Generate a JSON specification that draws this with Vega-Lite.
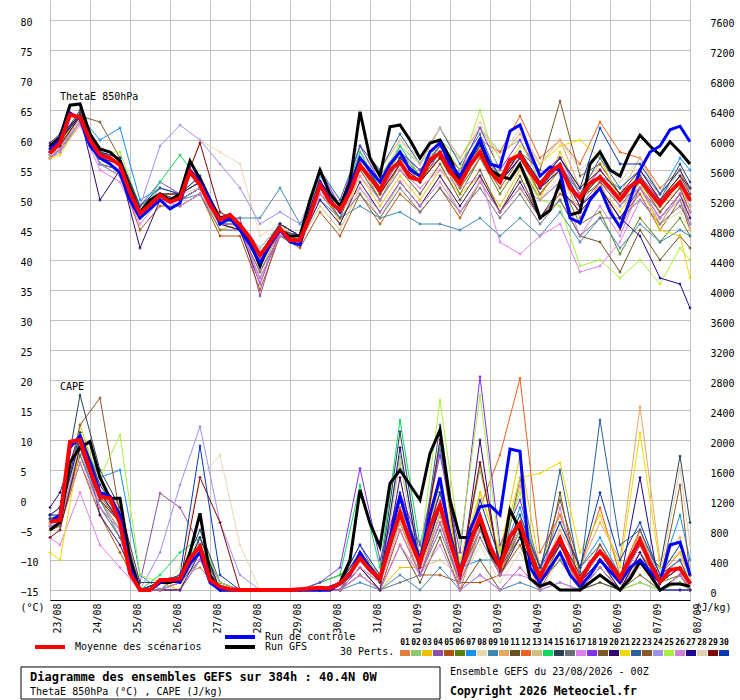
{
"$schema":"https://vega.github.io/schema/vega-lite/v6.json",
"width":640,"height":600,
"autosize":{"type":"none"},
"padding":{"left":50,"right":50,"top":0,"bottom":100},
"background":"#ffffff",
"config":{"view":{"stroke":null},"font":"DejaVu Sans Mono","axis":{"labelOverlap":false,"labelFlush":false,"labelBound":false,"labelSeparation":0},"text":{"font":"DejaVu Sans Mono","fontSize":10,"color":"#000000"}},
"datasets":{
"m":[
{"h":0,"r":"M","t":57.8,"c":911},{"h":6,"r":"M","t":59.5,"c":933},{"h":12,"r":"M","t":64.2,"c":1978},{"h":18,"r":"M","t":63.8,"c":2000},{"h":24,"r":"M","t":60,"c":1600},{"h":30,"r":"M","t":57.5,"c":1244},{"h":36,"r":"M","t":57,"c":1222},{"h":42,"r":"M","t":55.8,"c":889},{"h":48,"r":"M","t":51.3,"c":222},{"h":54,"r":"M","t":47.8,"c":0},{"h":60,"r":"M","t":49.2,"c":0},{"h":66,"r":"M","t":50.8,"c":133},{"h":72,"r":"M","t":49.7,"c":133},{"h":78,"r":"M","t":50.3,"c":150},{"h":84,"r":"M","t":54.7,"c":422},{"h":90,"r":"M","t":52.5,"c":578},{"h":96,"r":"M","t":49.2,"c":133},{"h":102,"r":"M","t":46.7,"c":44},{"h":108,"r":"M","t":47.5,"c":10},{"h":114,"r":"M","t":45.8,"c":0},{"h":120,"r":"M","t":43.7,"c":0},{"h":126,"r":"M","t":40.8,"c":0},{"h":132,"r":"M","t":43,"c":0},{"h":138,"r":"M","t":45.3,"c":0},{"h":144,"r":"M","t":43.3,"c":0},{"h":150,"r":"M","t":43.3,"c":10},{"h":156,"r":"M","t":47.5,"c":20},{"h":162,"r":"M","t":52.5,"c":30},{"h":168,"r":"M","t":49.7,"c":20},{"h":174,"r":"M","t":48.3,"c":89},{"h":180,"r":"M","t":51.3,"c":222},{"h":186,"r":"M","t":55.8,"c":422},{"h":192,"r":"M","t":53.7,"c":267},{"h":198,"r":"M","t":51.7,"c":156},{"h":204,"r":"M","t":55,"c":622},{"h":210,"r":"M","t":56.3,"c":1022},{"h":216,"r":"M","t":53.8,"c":667},{"h":222,"r":"M","t":53.3,"c":356},{"h":228,"r":"M","t":56.7,"c":844},{"h":234,"r":"M","t":57.8,"c":1133},{"h":240,"r":"M","t":54.7,"c":644},{"h":246,"r":"M","t":52.8,"c":222},{"h":252,"r":"M","t":55.8,"c":622},{"h":258,"r":"M","t":58,"c":978},{"h":264,"r":"M","t":54.7,"c":578},{"h":270,"r":"M","t":53,"c":311},{"h":276,"r":"M","t":56.7,"c":711},{"h":282,"r":"M","t":57.5,"c":889},{"h":288,"r":"M","t":54.7,"c":489},{"h":294,"r":"M","t":52.5,"c":178},{"h":300,"r":"M","t":54.7,"c":444},{"h":306,"r":"M","t":55.8,"c":689},{"h":312,"r":"M","t":52,"c":356},{"h":318,"r":"M","t":50.3,"c":111},{"h":324,"r":"M","t":52.8,"c":356},{"h":330,"r":"M","t":53.8,"c":511},{"h":336,"r":"M","t":52,"c":356},{"h":342,"r":"M","t":50,"c":156},{"h":348,"r":"M","t":52.2,"c":422},{"h":354,"r":"M","t":53.3,"c":667},{"h":360,"r":"M","t":51.3,"c":356},{"h":366,"r":"M","t":49.2,"c":111},{"h":372,"r":"M","t":51.3,"c":267},{"h":378,"r":"M","t":53,"c":289},{"h":384,"r":"M","t":50,"c":89},
{"h":0,"r":"C","t":58.5,"c":900},{"h":6,"r":"C","t":60,"c":1000},{"h":12,"r":"C","t":64.5,"c":1900},{"h":18,"r":"C","t":63.5,"c":2050},{"h":24,"r":"C","t":59,"c":1700},{"h":30,"r":"C","t":57,"c":1300},{"h":36,"r":"C","t":56,"c":1250},{"h":42,"r":"C","t":54.5,"c":1000},{"h":48,"r":"C","t":50,"c":300},{"h":54,"r":"C","t":47,"c":0},{"h":60,"r":"C","t":48.5,"c":0},{"h":66,"r":"C","t":50,"c":100},{"h":72,"r":"C","t":48.5,"c":150},{"h":78,"r":"C","t":49.5,"c":100},{"h":84,"r":"C","t":55,"c":350},{"h":90,"r":"C","t":53,"c":500},{"h":96,"r":"C","t":50,"c":100},{"h":102,"r":"C","t":46,"c":0},{"h":108,"r":"C","t":47,"c":0},{"h":114,"r":"C","t":45,"c":0},{"h":120,"r":"C","t":42.5,"c":0},{"h":126,"r":"C","t":39.5,"c":0},{"h":132,"r":"C","t":42.5,"c":0},{"h":138,"r":"C","t":45,"c":0},{"h":144,"r":"C","t":43,"c":0},{"h":150,"r":"C","t":42.5,"c":0},{"h":156,"r":"C","t":48,"c":0},{"h":162,"r":"C","t":53,"c":0},{"h":168,"r":"C","t":50,"c":0},{"h":174,"r":"C","t":48,"c":80},{"h":180,"r":"C","t":52,"c":200},{"h":186,"r":"C","t":57,"c":500},{"h":192,"r":"C","t":55,"c":300},{"h":198,"r":"C","t":53,"c":150},{"h":204,"r":"C","t":56,"c":700},{"h":210,"r":"C","t":58,"c":1250},{"h":216,"r":"C","t":55,"c":800},{"h":222,"r":"C","t":54,"c":400},{"h":228,"r":"C","t":58,"c":1000},{"h":234,"r":"C","t":59.5,"c":1500},{"h":240,"r":"C","t":56,"c":700},{"h":246,"r":"C","t":54,"c":200},{"h":252,"r":"C","t":57,"c":800},{"h":258,"r":"C","t":60,"c":1111},{"h":264,"r":"C","t":56,"c":1130},{"h":270,"r":"C","t":55.5,"c":1000},{"h":276,"r":"C","t":61.5,"c":1880},{"h":282,"r":"C","t":62.5,"c":1850},{"h":288,"r":"C","t":58,"c":300},{"h":294,"r":"C","t":54,"c":100},{"h":300,"r":"C","t":55.5,"c":300},{"h":306,"r":"C","t":55,"c":500},{"h":312,"r":"C","t":47,"c":200},{"h":318,"r":"C","t":46.2,"c":50},{"h":324,"r":"C","t":50,"c":200},{"h":330,"r":"C","t":52,"c":400},{"h":336,"r":"C","t":48,"c":250},{"h":342,"r":"C","t":45.5,"c":100},{"h":348,"r":"C","t":50,"c":300},{"h":354,"r":"C","t":55,"c":400},{"h":360,"r":"C","t":58,"c":250},{"h":366,"r":"C","t":59,"c":100},{"h":372,"r":"C","t":61.7,"c":600},{"h":378,"r":"C","t":62.3,"c":640},{"h":384,"r":"C","t":59.7,"c":200},
{"h":0,"r":"G","t":59,"c":800},{"h":6,"r":"G","t":60.5,"c":900},{"h":12,"r":"G","t":65.8,"c":1700},{"h":18,"r":"G","t":66,"c":1900},{"h":24,"r":"G","t":61,"c":1978},{"h":30,"r":"G","t":58.5,"c":1500},{"h":36,"r":"G","t":58,"c":1222},{"h":42,"r":"G","t":56.5,"c":1222},{"h":48,"r":"G","t":52,"c":400},{"h":54,"r":"G","t":48,"c":0},{"h":60,"r":"G","t":50,"c":0},{"h":66,"r":"G","t":51,"c":100},{"h":72,"r":"G","t":50,"c":100},{"h":78,"r":"G","t":51,"c":150},{"h":84,"r":"G","t":56.5,"c":500},{"h":90,"r":"G","t":53.5,"c":1022},{"h":96,"r":"G","t":50,"c":200},{"h":102,"r":"G","t":47,"c":0},{"h":108,"r":"G","t":47.5,"c":0},{"h":114,"r":"G","t":45,"c":0},{"h":120,"r":"G","t":43,"c":0},{"h":126,"r":"G","t":39,"c":0},{"h":132,"r":"G","t":43,"c":0},{"h":138,"r":"G","t":45,"c":0},{"h":144,"r":"G","t":44,"c":0},{"h":150,"r":"G","t":44,"c":0},{"h":156,"r":"G","t":50,"c":0},{"h":162,"r":"G","t":55,"c":0},{"h":168,"r":"G","t":51,"c":0},{"h":174,"r":"G","t":49,"c":100},{"h":180,"r":"G","t":53,"c":400},{"h":186,"r":"G","t":64.7,"c":1333},{"h":192,"r":"G","t":57,"c":889},{"h":198,"r":"G","t":54,"c":578},{"h":204,"r":"G","t":62.2,"c":1422},{"h":210,"r":"G","t":62.5,"c":1600},{"h":216,"r":"G","t":60,"c":1400},{"h":222,"r":"G","t":57,"c":1200},{"h":228,"r":"G","t":59.5,"c":1822},{"h":234,"r":"G","t":60,"c":2133},{"h":240,"r":"G","t":57,"c":1200},{"h":246,"r":"G","t":53,"c":700},{"h":252,"r":"G","t":57,"c":700},{"h":258,"r":"G","t":60,"c":900},{"h":264,"r":"G","t":55,"c":500},{"h":270,"r":"G","t":54,"c":300},{"h":276,"r":"G","t":53.5,"c":1067},{"h":282,"r":"G","t":56,"c":800},{"h":288,"r":"G","t":52,"c":150},{"h":294,"r":"G","t":47,"c":50},{"h":300,"r":"G","t":48.3,"c":100},{"h":306,"r":"G","t":53,"c":0},{"h":312,"r":"G","t":47.5,"c":0},{"h":318,"r":"G","t":48,"c":0},{"h":324,"r":"G","t":56,"c":100},{"h":330,"r":"G","t":58,"c":200},{"h":336,"r":"G","t":55,"c":100},{"h":342,"r":"G","t":54,"c":0},{"h":348,"r":"G","t":58,"c":150},{"h":354,"r":"G","t":60.8,"c":378},{"h":360,"r":"G","t":59,"c":200},{"h":366,"r":"G","t":57.5,"c":0},{"h":372,"r":"G","t":59.7,"c":80},{"h":378,"r":"G","t":58,"c":80},{"h":384,"r":"G","t":56,"c":50}
],
"p":[
{"h":0,"r":"01","t":58,"c":880},{"h":6,"r":"01","t":60,"c":950},{"h":18,"r":"01","t":64,"c":2100},{"h":30,"r":"01","t":58,"c":1300},{"h":42,"r":"01","t":57,"c":1000},{"h":54,"r":"01","t":47,"c":0},{"h":66,"r":"01","t":51,"c":0},{"h":78,"r":"01","t":51,"c":200},{"h":90,"r":"01","t":54,"c":300},{"h":102,"r":"01","t":46,"c":0},{"h":114,"r":"01","t":45,"c":0},{"h":126,"r":"01","t":38,"c":0},{"h":138,"r":"01","t":45,"c":0},{"h":150,"r":"01","t":44,"c":0},{"h":162,"r":"01","t":53,"c":0},{"h":174,"r":"01","t":48,"c":0},{"h":186,"r":"01","t":57,"c":300},{"h":198,"r":"01","t":52,"c":100},{"h":210,"r":"01","t":58,"c":900},{"h":222,"r":"01","t":54,"c":200},{"h":234,"r":"01","t":59,"c":1000},{"h":246,"r":"01","t":52,"c":0},{"h":258,"r":"01","t":59,"c":800},{"h":270,"r":"01","t":53,"c":200},{"h":282,"r":"01","t":58,"c":900},{"h":294,"r":"01","t":51,"c":100},{"h":306,"r":"01","t":56,"c":600},{"h":318,"r":"01","t":47,"c":0},{"h":330,"r":"01","t":53,"c":400},{"h":342,"r":"01","t":45,"c":0},{"h":354,"r":"01","t":52,"c":800},{"h":366,"r":"01","t":46,"c":100},{"h":378,"r":"01","t":51,"c":300},{"h":384,"r":"01","t":46,"c":0},
{"h":0,"r":"02","t":57.5,"c":950},{"h":6,"r":"02","t":59,"c":900},{"h":18,"r":"02","t":63.5,"c":1900},{"h":30,"r":"02","t":56,"c":1100},{"h":42,"r":"02","t":55,"c":700},{"h":54,"r":"02","t":47,"c":0},{"h":66,"r":"02","t":52,"c":0},{"h":78,"r":"02","t":51,"c":100},{"h":90,"r":"02","t":53,"c":400},{"h":102,"r":"02","t":47,"c":0},{"h":114,"r":"02","t":46,"c":0},{"h":126,"r":"02","t":41,"c":0},{"h":138,"r":"02","t":46,"c":0},{"h":150,"r":"02","t":44,"c":0},{"h":162,"r":"02","t":52,"c":0},{"h":174,"r":"02","t":49,"c":100},{"h":186,"r":"02","t":58,"c":500},{"h":198,"r":"02","t":54,"c":200},{"h":210,"r":"02","t":59,"c":1800},{"h":222,"r":"02","t":56,"c":400},{"h":234,"r":"02","t":60,"c":2000},{"h":246,"r":"02","t":57,"c":300},{"h":258,"r":"02","t":62,"c":1600},{"h":270,"r":"02","t":58,"c":400},{"h":282,"r":"02","t":60,"c":1000},{"h":294,"r":"02","t":53,"c":200},{"h":306,"r":"02","t":57,"c":700},{"h":318,"r":"02","t":52,"c":100},{"h":330,"r":"02","t":55,"c":600},{"h":342,"r":"02","t":51,"c":200},{"h":354,"r":"02","t":54,"c":800},{"h":366,"r":"02","t":50,"c":100},{"h":378,"r":"02","t":54,"c":300},{"h":384,"r":"02","t":52,"c":100},
{"h":0,"r":"03","t":58,"c":900},{"h":6,"r":"03","t":59.5,"c":1000},{"h":18,"r":"03","t":64.5,"c":2200},{"h":30,"r":"03","t":58,"c":1400},{"h":42,"r":"03","t":56,"c":1100},{"h":54,"r":"03","t":48,"c":0},{"h":66,"r":"03","t":50,"c":100},{"h":78,"r":"03","t":50,"c":0},{"h":90,"r":"03","t":52,"c":700},{"h":102,"r":"03","t":45,"c":0},{"h":114,"r":"03","t":46,"c":0},{"h":126,"r":"03","t":41,"c":0},{"h":138,"r":"03","t":46,"c":0},{"h":150,"r":"03","t":43,"c":0},{"h":162,"r":"03","t":53,"c":0},{"h":174,"r":"03","t":46,"c":0},{"h":186,"r":"03","t":54,"c":200},{"h":198,"r":"03","t":49,"c":0},{"h":210,"r":"03","t":54,"c":300},{"h":222,"r":"03","t":50,"c":300},{"h":234,"r":"03","t":55,"c":1900},{"h":246,"r":"03","t":51,"c":100},{"h":258,"r":"03","t":54,"c":1300},{"h":270,"r":"03","t":49,"c":500},{"h":282,"r":"03","t":55,"c":1800},{"h":294,"r":"03","t":50,"c":300},{"h":306,"r":"03","t":58,"c":1000},{"h":318,"r":"03","t":51,"c":200},{"h":330,"r":"03","t":52,"c":500},{"h":342,"r":"03","t":48,"c":100},{"h":354,"r":"03","t":53,"c":400},{"h":366,"r":"03","t":48,"c":0},{"h":378,"r":"03","t":52,"c":200},{"h":384,"r":"03","t":48,"c":0},
{"h":0,"r":"04","t":59,"c":1000},{"h":6,"r":"04","t":60,"c":1100},{"h":18,"r":"04","t":64,"c":1900},{"h":30,"r":"04","t":57,"c":1200},{"h":42,"r":"04","t":55,"c":800},{"h":54,"r":"04","t":49,"c":100},{"h":66,"r":"04","t":53,"c":1290},{"h":78,"r":"04","t":51,"c":1100},{"h":90,"r":"04","t":53,"c":600},{"h":102,"r":"04","t":47,"c":100},{"h":114,"r":"04","t":47,"c":0},{"h":126,"r":"04","t":34,"c":0},{"h":138,"r":"04","t":45,"c":0},{"h":150,"r":"04","t":44,"c":0},{"h":162,"r":"04","t":52,"c":0},{"h":174,"r":"04","t":48,"c":100},{"h":186,"r":"04","t":56,"c":600},{"h":198,"r":"04","t":51,"c":100},{"h":210,"r":"04","t":57,"c":1100},{"h":222,"r":"04","t":54,"c":500},{"h":234,"r":"04","t":57,"c":1300},{"h":246,"r":"04","t":53,"c":200},{"h":258,"r":"04","t":58,"c":1000},{"h":270,"r":"04","t":53,"c":300},{"h":282,"r":"04","t":57,"c":700},{"h":294,"r":"04","t":52,"c":100},{"h":306,"r":"04","t":55,"c":500},{"h":318,"r":"04","t":49,"c":100},{"h":330,"r":"04","t":53,"c":600},{"h":342,"r":"04","t":50,"c":200},{"h":354,"r":"04","t":52,"c":700},{"h":366,"r":"04","t":48,"c":200},{"h":378,"r":"04","t":52,"c":400},{"h":384,"r":"04","t":49,"c":100},
{"h":0,"r":"05","t":57,"c":800},{"h":6,"r":"05","t":58.5,"c":850},{"h":18,"r":"05","t":63,"c":1700},{"h":30,"r":"05","t":56,"c":1000},{"h":42,"r":"05","t":54,"c":500},{"h":54,"r":"05","t":45,"c":0},{"h":66,"r":"05","t":49,"c":0},{"h":78,"r":"05","t":49,"c":0},{"h":90,"r":"05","t":51,"c":400},{"h":102,"r":"05","t":44,"c":0},{"h":114,"r":"05","t":44,"c":0},{"h":126,"r":"05","t":35,"c":0},{"h":138,"r":"05","t":44,"c":0},{"h":150,"r":"05","t":42,"c":0},{"h":162,"r":"05","t":48,"c":0},{"h":174,"r":"05","t":44,"c":0},{"h":186,"r":"05","t":51,"c":200},{"h":198,"r":"05","t":46,"c":0},{"h":210,"r":"05","t":51,"c":800},{"h":222,"r":"05","t":48,"c":200},{"h":234,"r":"05","t":52,"c":200},{"h":246,"r":"05","t":47,"c":100},{"h":258,"r":"05","t":53,"c":100},{"h":270,"r":"05","t":48,"c":200},{"h":282,"r":"05","t":52,"c":600},{"h":294,"r":"05","t":47,"c":0},{"h":306,"r":"05","t":51,"c":500},{"h":318,"r":"05","t":49,"c":0},{"h":330,"r":"05","t":52,"c":300},{"h":342,"r":"05","t":47,"c":0},{"h":354,"r":"05","t":51,"c":500},{"h":366,"r":"05","t":45,"c":0},{"h":378,"r":"05","t":50,"c":200},{"h":384,"r":"05","t":45,"c":0},
{"h":0,"r":"06","t":58,"c":900},{"h":6,"r":"06","t":59,"c":950},{"h":18,"r":"06","t":64,"c":2000},{"h":30,"r":"06","t":57,"c":1300},{"h":42,"r":"06","t":56,"c":900},{"h":54,"r":"06","t":48,"c":0},{"h":66,"r":"06","t":50,"c":100},{"h":78,"r":"06","t":50,"c":100},{"h":90,"r":"06","t":52,"c":500},{"h":102,"r":"06","t":46,"c":0},{"h":114,"r":"06","t":46,"c":0},{"h":126,"r":"06","t":39,"c":0},{"h":138,"r":"06","t":45,"c":0},{"h":150,"r":"06","t":43,"c":0},{"h":162,"r":"06","t":52,"c":100},{"h":174,"r":"06","t":48,"c":200},{"h":186,"r":"06","t":56,"c":400},{"h":198,"r":"06","t":50,"c":100},{"h":210,"r":"06","t":56,"c":900},{"h":222,"r":"06","t":53,"c":300},{"h":234,"r":"06","t":57,"c":1000},{"h":246,"r":"06","t":51,"c":200},{"h":258,"r":"06","t":57,"c":800},{"h":270,"r":"06","t":51,"c":300},{"h":282,"r":"06","t":56,"c":700},{"h":294,"r":"06","t":50,"c":100},{"h":306,"r":"06","t":53,"c":400},{"h":318,"r":"06","t":46,"c":0},{"h":330,"r":"06","t":48,"c":300},{"h":342,"r":"06","t":41,"c":0},{"h":354,"r":"06","t":47,"c":500},{"h":366,"r":"06","t":43,"c":100},{"h":378,"r":"06","t":47,"c":200},{"h":384,"r":"06","t":44,"c":0},
{"h":0,"r":"07","t":58.5,"c":950},{"h":6,"r":"07","t":60,"c":1000},{"h":18,"r":"07","t":64,"c":2000},{"h":30,"r":"07","t":60,"c":1500},{"h":42,"r":"07","t":62,"c":1600},{"h":54,"r":"07","t":50,"c":200},{"h":66,"r":"07","t":52,"c":0},{"h":78,"r":"07","t":51,"c":200},{"h":90,"r":"07","t":53,"c":700},{"h":102,"r":"07","t":47,"c":100},{"h":114,"r":"07","t":46,"c":0},{"h":126,"r":"07","t":42,"c":0},{"h":138,"r":"07","t":46,"c":0},{"h":150,"r":"07","t":44,"c":0},{"h":162,"r":"07","t":53,"c":0},{"h":174,"r":"07","t":49,"c":0},{"h":186,"r":"07","t":57,"c":500},{"h":198,"r":"07","t":52,"c":200},{"h":210,"r":"07","t":58,"c":1100},{"h":222,"r":"07","t":55,"c":500},{"h":234,"r":"07","t":59,"c":1900},{"h":246,"r":"07","t":55,"c":300},{"h":258,"r":"07","t":59,"c":400},{"h":270,"r":"07","t":54,"c":400},{"h":282,"r":"07","t":58,"c":1100},{"h":294,"r":"07","t":53,"c":300},{"h":306,"r":"07","t":56,"c":900},{"h":318,"r":"07","t":50,"c":300},{"h":330,"r":"07","t":54,"c":700},{"h":342,"r":"07","t":52,"c":200},{"h":354,"r":"07","t":55,"c":600},{"h":366,"r":"07","t":51,"c":200},{"h":378,"r":"07","t":57,"c":1000},{"h":384,"r":"07","t":55,"c":400},
{"h":0,"r":"08","t":58,"c":900},{"h":6,"r":"08","t":59,"c":900},{"h":18,"r":"08","t":63,"c":1900},{"h":30,"r":"08","t":57,"c":1100},{"h":42,"r":"08","t":56,"c":800},{"h":54,"r":"08","t":48,"c":0},{"h":66,"r":"08","t":52,"c":0},{"h":78,"r":"08","t":51,"c":300},{"h":90,"r":"08","t":60,"c":1500},{"h":102,"r":"08","t":58,"c":1800},{"h":114,"r":"08","t":56,"c":600},{"h":126,"r":"08","t":44,"c":0},{"h":138,"r":"08","t":46,"c":0},{"h":150,"r":"08","t":44,"c":0},{"h":162,"r":"08","t":51,"c":0},{"h":174,"r":"08","t":48,"c":0},{"h":186,"r":"08","t":55,"c":300},{"h":198,"r":"08","t":51,"c":0},{"h":210,"r":"08","t":55,"c":600},{"h":222,"r":"08","t":52,"c":200},{"h":234,"r":"08","t":56,"c":700},{"h":246,"r":"08","t":52,"c":100},{"h":258,"r":"08","t":57,"c":600},{"h":270,"r":"08","t":52,"c":100},{"h":282,"r":"08","t":55,"c":500},{"h":294,"r":"08","t":50,"c":0},{"h":306,"r":"08","t":54,"c":400},{"h":318,"r":"08","t":48,"c":0},{"h":330,"r":"08","t":52,"c":200},{"h":342,"r":"08","t":47,"c":0},{"h":354,"r":"08","t":50,"c":300},{"h":366,"r":"08","t":46,"c":0},{"h":378,"r":"08","t":48,"c":200},{"h":384,"r":"08","t":45,"c":0},
{"h":0,"r":"09","t":57,"c":850},{"h":6,"r":"09","t":58,"c":900},{"h":18,"r":"09","t":63,"c":1800},{"h":30,"r":"09","t":56,"c":1200},{"h":42,"r":"09","t":55,"c":700},{"h":54,"r":"09","t":47,"c":0},{"h":66,"r":"09","t":50,"c":0},{"h":78,"r":"09","t":50,"c":100},{"h":90,"r":"09","t":51,"c":400},{"h":102,"r":"09","t":46,"c":0},{"h":114,"r":"09","t":47,"c":0},{"h":126,"r":"09","t":47,"c":0},{"h":138,"r":"09","t":52,"c":0},{"h":150,"r":"09","t":46,"c":0},{"h":162,"r":"09","t":50,"c":0},{"h":174,"r":"09","t":47,"c":0},{"h":186,"r":"09","t":49,"c":100},{"h":198,"r":"09","t":47,"c":0},{"h":210,"r":"09","t":48,"c":200},{"h":222,"r":"09","t":46,"c":0},{"h":234,"r":"09","t":46,"c":300},{"h":246,"r":"09","t":45,"c":0},{"h":258,"r":"09","t":47,"c":200},{"h":270,"r":"09","t":44,"c":0},{"h":282,"r":"09","t":47,"c":100},{"h":294,"r":"09","t":44,"c":0},{"h":306,"r":"09","t":48,"c":100},{"h":318,"r":"09","t":43,"c":0},{"h":330,"r":"09","t":47,"c":100},{"h":342,"r":"09","t":42,"c":0},{"h":354,"r":"09","t":46,"c":100},{"h":366,"r":"09","t":43,"c":0},{"h":378,"r":"09","t":45,"c":0},{"h":384,"r":"09","t":44,"c":0},
{"h":0,"r":"10","t":58,"c":900},{"h":6,"r":"10","t":59.5,"c":950},{"h":18,"r":"10","t":64,"c":2000},{"h":30,"r":"10","t":58,"c":1300},{"h":42,"r":"10","t":56,"c":900},{"h":54,"r":"10","t":48,"c":0},{"h":66,"r":"10","t":51,"c":0},{"h":78,"r":"10","t":50,"c":100},{"h":90,"r":"10","t":52,"c":600},{"h":102,"r":"10","t":47,"c":0},{"h":114,"r":"10","t":46,"c":0},{"h":126,"r":"10","t":40,"c":0},{"h":138,"r":"10","t":45,"c":0},{"h":150,"r":"10","t":44,"c":0},{"h":162,"r":"10","t":53,"c":0},{"h":174,"r":"10","t":49,"c":100},{"h":186,"r":"10","t":59,"c":500},{"h":198,"r":"10","t":55,"c":200},{"h":210,"r":"10","t":60,"c":1000},{"h":222,"r":"10","t":57,"c":400},{"h":234,"r":"10","t":62,"c":1100},{"h":246,"r":"10","t":57,"c":300},{"h":258,"r":"10","t":62,"c":1700},{"h":270,"r":"10","t":57,"c":300},{"h":282,"r":"10","t":61,"c":1400},{"h":294,"r":"10","t":56,"c":200},{"h":306,"r":"10","t":60,"c":800},{"h":318,"r":"10","t":52,"c":300},{"h":330,"r":"10","t":56,"c":900},{"h":342,"r":"10","t":51,"c":400},{"h":354,"r":"10","t":57,"c":2444},{"h":366,"r":"10","t":51,"c":400},{"h":378,"r":"10","t":55,"c":700},{"h":384,"r":"10","t":51,"c":200},
{"h":0,"r":"11","t":57.5,"c":900},{"h":6,"r":"11","t":59,"c":950},{"h":18,"r":"11","t":63.5,"c":1900},{"h":30,"r":"11","t":57,"c":1200},{"h":42,"r":"11","t":55,"c":800},{"h":54,"r":"11","t":47,"c":0},{"h":66,"r":"11","t":50,"c":100},{"h":78,"r":"11","t":50,"c":100},{"h":90,"r":"11","t":52,"c":500},{"h":102,"r":"11","t":46,"c":0},{"h":114,"r":"11","t":45,"c":0},{"h":126,"r":"11","t":37,"c":0},{"h":138,"r":"11","t":44,"c":0},{"h":150,"r":"11","t":43,"c":0},{"h":162,"r":"11","t":52,"c":0},{"h":174,"r":"11","t":47,"c":0},{"h":186,"r":"11","t":55,"c":300},{"h":198,"r":"11","t":50,"c":0},{"h":210,"r":"11","t":55,"c":600},{"h":222,"r":"11","t":51,"c":100},{"h":234,"r":"11","t":56,"c":700},{"h":246,"r":"11","t":50,"c":0},{"h":258,"r":"11","t":55,"c":400},{"h":270,"r":"11","t":48,"c":0},{"h":282,"r":"11","t":54,"c":300},{"h":294,"r":"11","t":47,"c":0},{"h":306,"r":"11","t":50,"c":1300},{"h":318,"r":"11","t":44,"c":0},{"h":330,"r":"11","t":43,"c":100},{"h":342,"r":"11","t":38,"c":0},{"h":354,"r":"11","t":45,"c":200},{"h":366,"r":"11","t":40,"c":0},{"h":378,"r":"11","t":44,"c":100},{"h":384,"r":"11","t":42,"c":0},
{"h":0,"r":"12","t":58,"c":950},{"h":6,"r":"12","t":60,"c":1000},{"h":18,"r":"12","t":64.5,"c":2100},{"h":30,"r":"12","t":58,"c":1300},{"h":42,"r":"12","t":56,"c":1000},{"h":54,"r":"12","t":49,"c":0},{"h":66,"r":"12","t":51,"c":100},{"h":78,"r":"12","t":51,"c":100},{"h":90,"r":"12","t":53,"c":600},{"h":102,"r":"12","t":47,"c":0},{"h":114,"r":"12","t":46,"c":0},{"h":126,"r":"12","t":41,"c":0},{"h":138,"r":"12","t":46,"c":0},{"h":150,"r":"12","t":44,"c":0},{"h":162,"r":"12","t":53,"c":0},{"h":174,"r":"12","t":49,"c":100},{"h":186,"r":"12","t":57,"c":500},{"h":198,"r":"12","t":52,"c":200},{"h":210,"r":"12","t":58,"c":1100},{"h":222,"r":"12","t":55,"c":500},{"h":234,"r":"12","t":59,"c":1300},{"h":246,"r":"12","t":55,"c":300},{"h":258,"r":"12","t":60,"c":1100},{"h":270,"r":"12","t":58,"c":1800},{"h":282,"r":"12","t":64,"c":2822},{"h":294,"r":"12","t":57,"c":500},{"h":306,"r":"12","t":60,"c":1000},{"h":318,"r":"12","t":56,"c":300},{"h":330,"r":"12","t":63,"c":1100},{"h":342,"r":"12","t":58,"c":200},{"h":354,"r":"12","t":57,"c":800},{"h":366,"r":"12","t":52,"c":200},{"h":378,"r":"12","t":55,"c":500},{"h":384,"r":"12","t":51,"c":200},
{"h":0,"r":"13","t":58,"c":900},{"h":6,"r":"13","t":59,"c":900},{"h":18,"r":"13","t":63.5,"c":1900},{"h":30,"r":"13","t":57,"c":1200},{"h":42,"r":"13","t":55,"c":800},{"h":54,"r":"13","t":48,"c":0},{"h":66,"r":"13","t":51,"c":100},{"h":78,"r":"13","t":51,"c":100},{"h":90,"r":"13","t":53,"c":500},{"h":102,"r":"13","t":46,"c":0},{"h":114,"r":"13","t":46,"c":0},{"h":126,"r":"13","t":41,"c":0},{"h":138,"r":"13","t":45,"c":0},{"h":150,"r":"13","t":43,"c":0},{"h":162,"r":"13","t":49,"c":0},{"h":174,"r":"13","t":45,"c":100},{"h":186,"r":"13","t":52,"c":400},{"h":198,"r":"13","t":47,"c":100},{"h":210,"r":"13","t":53,"c":1700},{"h":222,"r":"13","t":49,"c":300},{"h":234,"r":"13","t":54,"c":400},{"h":246,"r":"13","t":48,"c":200},{"h":258,"r":"13","t":53,"c":900},{"h":270,"r":"13","t":48,"c":200},{"h":282,"r":"13","t":53,"c":800},{"h":294,"r":"13","t":52,"c":100},{"h":306,"r":"13","t":56,"c":600},{"h":318,"r":"13","t":51,"c":100},{"h":330,"r":"13","t":54,"c":500},{"h":342,"r":"13","t":50,"c":100},{"h":354,"r":"13","t":53,"c":600},{"h":366,"r":"13","t":49,"c":100},{"h":378,"r":"13","t":52,"c":300},{"h":384,"r":"13","t":49,"c":100},
{"h":0,"r":"14","t":58,"c":950},{"h":6,"r":"14","t":59.5,"c":1000},{"h":18,"r":"14","t":64,"c":2000},{"h":30,"r":"14","t":58,"c":1300},{"h":42,"r":"14","t":56,"c":900},{"h":54,"r":"14","t":48,"c":0},{"h":66,"r":"14","t":53,"c":200},{"h":78,"r":"14","t":57.5,"c":500},{"h":90,"r":"14","t":53,"c":700},{"h":102,"r":"14","t":47,"c":0},{"h":114,"r":"14","t":46,"c":0},{"h":126,"r":"14","t":41,"c":0},{"h":138,"r":"14","t":46,"c":0},{"h":150,"r":"14","t":44,"c":0},{"h":162,"r":"14","t":54,"c":100},{"h":174,"r":"14","t":49,"c":200},{"h":186,"r":"14","t":58,"c":1400},{"h":198,"r":"14","t":52,"c":300},{"h":210,"r":"14","t":59,"c":2267},{"h":222,"r":"14","t":54,"c":600},{"h":234,"r":"14","t":59,"c":1400},{"h":246,"r":"14","t":54,"c":200},{"h":258,"r":"14","t":59,"c":1000},{"h":270,"r":"14","t":54,"c":300},{"h":282,"r":"14","t":58,"c":900},{"h":294,"r":"14","t":53,"c":200},{"h":306,"r":"14","t":56,"c":700},{"h":318,"r":"14","t":50,"c":100},{"h":330,"r":"14","t":54,"c":500},{"h":342,"r":"14","t":50,"c":100},{"h":354,"r":"14","t":54,"c":600},{"h":366,"r":"14","t":49,"c":100},{"h":378,"r":"14","t":53,"c":300},{"h":384,"r":"14","t":50,"c":100},
{"h":0,"r":"15","t":58.5,"c":1000},{"h":6,"r":"15","t":60,"c":1100},{"h":18,"r":"15","t":65,"c":2600},{"h":30,"r":"15","t":58,"c":1600},{"h":42,"r":"15","t":57,"c":1100},{"h":54,"r":"15","t":49,"c":100},{"h":66,"r":"15","t":51,"c":100},{"h":78,"r":"15","t":51,"c":200},{"h":90,"r":"15","t":53,"c":800},{"h":102,"r":"15","t":47,"c":100},{"h":114,"r":"15","t":46,"c":0},{"h":126,"r":"15","t":41,"c":0},{"h":138,"r":"15","t":46,"c":0},{"h":150,"r":"15","t":44,"c":0},{"h":162,"r":"15","t":53,"c":0},{"h":174,"r":"15","t":49,"c":100},{"h":186,"r":"15","t":57,"c":500},{"h":198,"r":"15","t":52,"c":200},{"h":210,"r":"15","t":58,"c":2111},{"h":222,"r":"15","t":54,"c":400},{"h":234,"r":"15","t":58,"c":1100},{"h":246,"r":"15","t":53,"c":200},{"h":258,"r":"15","t":58,"c":900},{"h":270,"r":"15","t":53,"c":300},{"h":282,"r":"15","t":57,"c":800},{"h":294,"r":"15","t":52,"c":200},{"h":306,"r":"15","t":56,"c":600},{"h":318,"r":"15","t":50,"c":100},{"h":330,"r":"15","t":54,"c":400},{"h":342,"r":"15","t":50,"c":100},{"h":354,"r":"15","t":53,"c":600},{"h":366,"r":"15","t":50,"c":300},{"h":378,"r":"15","t":56,"c":1785},{"h":384,"r":"15","t":53,"c":900},
{"h":0,"r":"16","t":57,"c":850},{"h":6,"r":"16","t":58.5,"c":850},{"h":18,"r":"16","t":63,"c":1800},{"h":30,"r":"16","t":56,"c":1100},{"h":42,"r":"16","t":55,"c":700},{"h":54,"r":"16","t":47,"c":0},{"h":66,"r":"16","t":50,"c":0},{"h":78,"r":"16","t":49,"c":0},{"h":90,"r":"16","t":51,"c":400},{"h":102,"r":"16","t":45,"c":0},{"h":114,"r":"16","t":45,"c":0},{"h":126,"r":"16","t":38,"c":0},{"h":138,"r":"16","t":44,"c":0},{"h":150,"r":"16","t":43,"c":0},{"h":162,"r":"16","t":51,"c":0},{"h":174,"r":"16","t":47,"c":0},{"h":186,"r":"16","t":51,"c":200},{"h":198,"r":"16","t":47,"c":0},{"h":210,"r":"16","t":52,"c":100},{"h":222,"r":"16","t":48,"c":200},{"h":234,"r":"16","t":52,"c":800},{"h":246,"r":"16","t":48,"c":100},{"h":258,"r":"16","t":52,"c":700},{"h":270,"r":"16","t":47,"c":200},{"h":282,"r":"16","t":51,"c":1500},{"h":294,"r":"16","t":46,"c":100},{"h":306,"r":"16","t":50,"c":400},{"h":318,"r":"16","t":44,"c":0},{"h":330,"r":"16","t":47,"c":300},{"h":342,"r":"16","t":47,"c":0},{"h":354,"r":"16","t":50,"c":400},{"h":366,"r":"16","t":46,"c":0},{"h":378,"r":"16","t":49,"c":100},{"h":384,"r":"16","t":46,"c":0},
{"h":0,"r":"17","t":57,"c":700},{"h":6,"r":"17","t":58,"c":600},{"h":18,"r":"17","t":62.5,"c":1300},{"h":30,"r":"17","t":55,"c":600},{"h":42,"r":"17","t":53,"c":300},{"h":54,"r":"17","t":46,"c":0},{"h":66,"r":"17","t":50,"c":0},{"h":78,"r":"17","t":49,"c":0},{"h":90,"r":"17","t":51,"c":400},{"h":102,"r":"17","t":46,"c":0},{"h":114,"r":"17","t":45,"c":0},{"h":126,"r":"17","t":37,"c":0},{"h":138,"r":"17","t":44,"c":0},{"h":150,"r":"17","t":43,"c":0},{"h":162,"r":"17","t":51,"c":0},{"h":174,"r":"17","t":48,"c":0},{"h":186,"r":"17","t":54,"c":200},{"h":198,"r":"17","t":50,"c":0},{"h":210,"r":"17","t":55,"c":600},{"h":222,"r":"17","t":52,"c":200},{"h":234,"r":"17","t":55,"c":600},{"h":246,"r":"17","t":52,"c":0},{"h":258,"r":"17","t":54,"c":200},{"h":270,"r":"17","t":43,"c":0},{"h":282,"r":"17","t":41,"c":300},{"h":294,"r":"17","t":44,"c":0},{"h":306,"r":"17","t":46,"c":100},{"h":318,"r":"17","t":38,"c":0},{"h":330,"r":"17","t":39,"c":400},{"h":342,"r":"17","t":43,"c":100},{"h":354,"r":"17","t":50,"c":500},{"h":366,"r":"17","t":47,"c":0},{"h":378,"r":"17","t":51,"c":200},{"h":384,"r":"17","t":48,"c":0},
{"h":0,"r":"18","t":58,"c":900},{"h":6,"r":"18","t":59,"c":950},{"h":18,"r":"18","t":64,"c":2000},{"h":30,"r":"18","t":58,"c":1300},{"h":42,"r":"18","t":56,"c":900},{"h":54,"r":"18","t":48,"c":0},{"h":66,"r":"18","t":51,"c":100},{"h":78,"r":"18","t":51,"c":100},{"h":90,"r":"18","t":53,"c":600},{"h":102,"r":"18","t":47,"c":0},{"h":114,"r":"18","t":46,"c":0},{"h":126,"r":"18","t":41,"c":0},{"h":138,"r":"18","t":46,"c":0},{"h":150,"r":"18","t":44,"c":0},{"h":162,"r":"18","t":55,"c":100},{"h":174,"r":"18","t":49,"c":300},{"h":186,"r":"18","t":59,"c":1622},{"h":198,"r":"18","t":53,"c":400},{"h":210,"r":"18","t":58,"c":1300},{"h":222,"r":"18","t":55,"c":600},{"h":234,"r":"18","t":59,"c":1800},{"h":246,"r":"18","t":55,"c":500},{"h":258,"r":"18","t":62,"c":2844},{"h":270,"r":"18","t":55,"c":600},{"h":282,"r":"18","t":60,"c":1200},{"h":294,"r":"18","t":54,"c":300},{"h":306,"r":"18","t":57,"c":700},{"h":318,"r":"18","t":51,"c":200},{"h":330,"r":"18","t":55,"c":500},{"h":342,"r":"18","t":51,"c":100},{"h":354,"r":"18","t":54,"c":600},{"h":366,"r":"18","t":50,"c":100},{"h":378,"r":"18","t":53,"c":300},{"h":384,"r":"18","t":50,"c":100},
{"h":0,"r":"19","t":58,"c":900},{"h":6,"r":"19","t":59.5,"c":950},{"h":18,"r":"19","t":64,"c":1950},{"h":30,"r":"19","t":57,"c":1250},{"h":42,"r":"19","t":56,"c":900},{"h":54,"r":"19","t":48,"c":0},{"h":66,"r":"19","t":51,"c":100},{"h":78,"r":"19","t":50,"c":100},{"h":90,"r":"19","t":52,"c":500},{"h":102,"r":"19","t":46,"c":0},{"h":114,"r":"19","t":46,"c":0},{"h":126,"r":"19","t":41,"c":0},{"h":138,"r":"19","t":45,"c":0},{"h":150,"r":"19","t":43,"c":0},{"h":162,"r":"19","t":52,"c":0},{"h":174,"r":"19","t":48,"c":100},{"h":186,"r":"19","t":56,"c":400},{"h":198,"r":"19","t":51,"c":100},{"h":210,"r":"19","t":56,"c":1000},{"h":222,"r":"19","t":53,"c":300},{"h":234,"r":"19","t":58,"c":1100},{"h":246,"r":"19","t":53,"c":200},{"h":258,"r":"19","t":58,"c":900},{"h":270,"r":"19","t":53,"c":300},{"h":282,"r":"19","t":58,"c":900},{"h":294,"r":"19","t":55,"c":300},{"h":306,"r":"19","t":66.5,"c":1200},{"h":318,"r":"19","t":54,"c":300},{"h":330,"r":"19","t":56,"c":600},{"h":342,"r":"19","t":51,"c":200},{"h":354,"r":"19","t":54,"c":600},{"h":366,"r":"19","t":49,"c":100},{"h":378,"r":"19","t":53,"c":300},{"h":384,"r":"19","t":50,"c":100},
{"h":0,"r":"20","t":59.5,"c":1100},{"h":6,"r":"20","t":61,"c":1300},{"h":18,"r":"20","t":64,"c":2100},{"h":30,"r":"20","t":50,"c":1000},{"h":42,"r":"20","t":55,"c":600},{"h":54,"r":"20","t":42,"c":0},{"h":66,"r":"20","t":50,"c":0},{"h":78,"r":"20","t":50,"c":0},{"h":90,"r":"20","t":52,"c":500},{"h":102,"r":"20","t":46,"c":0},{"h":114,"r":"20","t":45,"c":0},{"h":126,"r":"20","t":36,"c":0},{"h":138,"r":"20","t":45,"c":0},{"h":150,"r":"20","t":43,"c":0},{"h":162,"r":"20","t":50,"c":0},{"h":174,"r":"20","t":46,"c":0},{"h":186,"r":"20","t":53,"c":300},{"h":198,"r":"20","t":48,"c":0},{"h":210,"r":"20","t":53,"c":1500},{"h":222,"r":"20","t":49,"c":200},{"h":234,"r":"20","t":54,"c":900},{"h":246,"r":"20","t":49,"c":100},{"h":258,"r":"20","t":54,"c":2000},{"h":270,"r":"20","t":48,"c":200},{"h":282,"r":"20","t":53,"c":700},{"h":294,"r":"20","t":47,"c":100},{"h":306,"r":"20","t":52,"c":500},{"h":318,"r":"20","t":48,"c":0},{"h":330,"r":"20","t":52,"c":400},{"h":342,"r":"20","t":47,"c":0},{"h":354,"r":"20","t":52,"c":500},{"h":366,"r":"20","t":47,"c":0},{"h":378,"r":"20","t":51,"c":200},{"h":384,"r":"20","t":47,"c":0},
{"h":0,"r":"21","t":57,"c":500},{"h":6,"r":"21","t":57.5,"c":400},{"h":18,"r":"21","t":63,"c":1900},{"h":30,"r":"21","t":57,"c":1300},{"h":42,"r":"21","t":56,"c":900},{"h":54,"r":"21","t":48,"c":0},{"h":66,"r":"21","t":51,"c":100},{"h":78,"r":"21","t":51,"c":100},{"h":90,"r":"21","t":53,"c":600},{"h":102,"r":"21","t":47,"c":0},{"h":114,"r":"21","t":46,"c":0},{"h":126,"r":"21","t":41,"c":0},{"h":138,"r":"21","t":46,"c":0},{"h":150,"r":"21","t":44,"c":0},{"h":162,"r":"21","t":53,"c":0},{"h":174,"r":"21","t":49,"c":100},{"h":186,"r":"21","t":56,"c":500},{"h":198,"r":"21","t":52,"c":200},{"h":210,"r":"21","t":57,"c":1000},{"h":222,"r":"21","t":54,"c":400},{"h":234,"r":"21","t":58,"c":1400},{"h":246,"r":"21","t":54,"c":400},{"h":258,"r":"21","t":59,"c":1300},{"h":270,"r":"21","t":54,"c":500},{"h":282,"r":"21","t":59,"c":1500},{"h":294,"r":"21","t":56,"c":1556},{"h":306,"r":"21","t":59,"c":1700},{"h":318,"r":"21","t":60,"c":500},{"h":330,"r":"21","t":57,"c":1000},{"h":342,"r":"21","t":50,"c":300},{"h":354,"r":"21","t":53,"c":2100},{"h":366,"r":"21","t":45,"c":300},{"h":378,"r":"21","t":44,"c":500},{"h":384,"r":"21","t":37,"c":100},
{"h":0,"r":"22","t":58,"c":900},{"h":6,"r":"22","t":59,"c":950},{"h":18,"r":"22","t":64,"c":2000},{"h":30,"r":"22","t":57,"c":1200},{"h":42,"r":"22","t":56,"c":900},{"h":54,"r":"22","t":48,"c":0},{"h":66,"r":"22","t":51,"c":100},{"h":78,"r":"22","t":50,"c":100},{"h":90,"r":"22","t":52,"c":600},{"h":102,"r":"22","t":46,"c":0},{"h":114,"r":"22","t":46,"c":0},{"h":126,"r":"22","t":41,"c":0},{"h":138,"r":"22","t":45,"c":0},{"h":150,"r":"22","t":44,"c":0},{"h":162,"r":"22","t":55,"c":0},{"h":174,"r":"22","t":50,"c":100},{"h":186,"r":"22","t":59,"c":400},{"h":198,"r":"22","t":55,"c":100},{"h":210,"r":"22","t":61,"c":1000},{"h":222,"r":"22","t":56,"c":300},{"h":234,"r":"22","t":62,"c":2200},{"h":246,"r":"22","t":56,"c":200},{"h":258,"r":"22","t":61,"c":900},{"h":270,"r":"22","t":53,"c":300},{"h":282,"r":"22","t":57,"c":800},{"h":294,"r":"22","t":52,"c":200},{"h":306,"r":"22","t":56,"c":1600},{"h":318,"r":"22","t":51,"c":200},{"h":330,"r":"22","t":57,"c":2267},{"h":342,"r":"22","t":52,"c":600},{"h":354,"r":"22","t":55,"c":800},{"h":366,"r":"22","t":50,"c":200},{"h":378,"r":"22","t":54,"c":400},{"h":384,"r":"22","t":51,"c":100},
{"h":0,"r":"23","t":58,"c":900},{"h":6,"r":"23","t":59.5,"c":1000},{"h":18,"r":"23","t":64,"c":2200},{"h":30,"r":"23","t":63,"c":2560},{"h":42,"r":"23","t":57,"c":1000},{"h":54,"r":"23","t":48,"c":0},{"h":66,"r":"23","t":51,"c":0},{"h":78,"r":"23","t":51,"c":100},{"h":90,"r":"23","t":53,"c":600},{"h":102,"r":"23","t":47,"c":0},{"h":114,"r":"23","t":46,"c":0},{"h":126,"r":"23","t":41,"c":0},{"h":138,"r":"23","t":46,"c":0},{"h":150,"r":"23","t":44,"c":0},{"h":162,"r":"23","t":53,"c":0},{"h":174,"r":"23","t":48,"c":0},{"h":186,"r":"23","t":56,"c":400},{"h":198,"r":"23","t":52,"c":100},{"h":210,"r":"23","t":57,"c":900},{"h":222,"r":"23","t":53,"c":300},{"h":234,"r":"23","t":57,"c":1000},{"h":246,"r":"23","t":52,"c":200},{"h":258,"r":"23","t":57,"c":800},{"h":270,"r":"23","t":52,"c":200},{"h":282,"r":"23","t":57,"c":800},{"h":294,"r":"23","t":51,"c":100},{"h":306,"r":"23","t":55,"c":600},{"h":318,"r":"23","t":50,"c":100},{"h":330,"r":"23","t":53,"c":500},{"h":342,"r":"23","t":49,"c":100},{"h":354,"r":"23","t":53,"c":600},{"h":366,"r":"23","t":48,"c":100},{"h":378,"r":"23","t":52,"c":1400},{"h":384,"r":"23","t":48,"c":200},
{"h":0,"r":"24","t":57.5,"c":900},{"h":6,"r":"24","t":59,"c":900},{"h":18,"r":"24","t":63,"c":1900},{"h":30,"r":"24","t":56,"c":1100},{"h":42,"r":"24","t":54,"c":800},{"h":54,"r":"24","t":49,"c":0},{"h":66,"r":"24","t":59,"c":500},{"h":78,"r":"24","t":62.5,"c":1400},{"h":90,"r":"24","t":60,"c":2178},{"h":102,"r":"24","t":56,"c":900},{"h":114,"r":"24","t":52,"c":200},{"h":126,"r":"24","t":46,"c":0},{"h":138,"r":"24","t":48,"c":0},{"h":150,"r":"24","t":46,"c":0},{"h":162,"r":"24","t":54,"c":0},{"h":174,"r":"24","t":49,"c":100},{"h":186,"r":"24","t":57,"c":500},{"h":198,"r":"24","t":52,"c":100},{"h":210,"r":"24","t":57,"c":1000},{"h":222,"r":"24","t":54,"c":300},{"h":234,"r":"24","t":58,"c":1200},{"h":246,"r":"24","t":54,"c":300},{"h":258,"r":"24","t":58,"c":1000},{"h":270,"r":"24","t":54,"c":300},{"h":282,"r":"24","t":57,"c":900},{"h":294,"r":"24","t":53,"c":200},{"h":306,"r":"24","t":56,"c":700},{"h":318,"r":"24","t":51,"c":100},{"h":330,"r":"24","t":54,"c":500},{"h":342,"r":"24","t":49,"c":100},{"h":354,"r":"24","t":52,"c":600},{"h":366,"r":"24","t":47,"c":100},{"h":378,"r":"24","t":50,"c":300},{"h":384,"r":"24","t":46,"c":100},
{"h":0,"r":"25","t":58,"c":900},{"h":6,"r":"25","t":59.5,"c":1000},{"h":18,"r":"25","t":64,"c":2100},{"h":30,"r":"25","t":58,"c":1500},{"h":42,"r":"25","t":58,"c":2067},{"h":54,"r":"25","t":49,"c":200},{"h":66,"r":"25","t":51,"c":100},{"h":78,"r":"25","t":51,"c":200},{"h":90,"r":"25","t":53,"c":700},{"h":102,"r":"25","t":47,"c":100},{"h":114,"r":"25","t":46,"c":0},{"h":126,"r":"25","t":41,"c":0},{"h":138,"r":"25","t":46,"c":0},{"h":150,"r":"25","t":44,"c":0},{"h":162,"r":"25","t":53,"c":0},{"h":174,"r":"25","t":49,"c":100},{"h":186,"r":"25","t":57,"c":500},{"h":198,"r":"25","t":52,"c":200},{"h":210,"r":"25","t":58,"c":1200},{"h":222,"r":"25","t":54,"c":500},{"h":234,"r":"25","t":60,"c":2533},{"h":246,"r":"25","t":55,"c":600},{"h":258,"r":"25","t":65,"c":2600},{"h":270,"r":"25","t":54,"c":500},{"h":282,"r":"25","t":58,"c":1300},{"h":294,"r":"25","t":50,"c":200},{"h":306,"r":"25","t":49,"c":500},{"h":318,"r":"25","t":39,"c":0},{"h":330,"r":"25","t":40,"c":200},{"h":342,"r":"25","t":37,"c":0},{"h":354,"r":"25","t":40,"c":100},{"h":366,"r":"25","t":36,"c":0},{"h":378,"r":"25","t":42,"c":100},{"h":384,"r":"25","t":40,"c":0},
{"h":0,"r":"26","t":57.5,"c":850},{"h":6,"r":"26","t":58.5,"c":900},{"h":18,"r":"26","t":63,"c":1700},{"h":30,"r":"26","t":57,"c":1100},{"h":42,"r":"26","t":55,"c":800},{"h":54,"r":"26","t":47,"c":0},{"h":66,"r":"26","t":50,"c":0},{"h":78,"r":"26","t":50,"c":100},{"h":90,"r":"26","t":52,"c":500},{"h":102,"r":"26","t":46,"c":0},{"h":114,"r":"26","t":46,"c":0},{"h":126,"r":"26","t":36,"c":0},{"h":138,"r":"26","t":45,"c":0},{"h":150,"r":"26","t":43,"c":0},{"h":162,"r":"26","t":51,"c":0},{"h":174,"r":"26","t":48,"c":0},{"h":186,"r":"26","t":52,"c":300},{"h":198,"r":"26","t":48,"c":100},{"h":210,"r":"26","t":53,"c":800},{"h":222,"r":"26","t":49,"c":200},{"h":234,"r":"26","t":53,"c":900},{"h":246,"r":"26","t":48,"c":100},{"h":258,"r":"26","t":53,"c":800},{"h":270,"r":"26","t":48,"c":200},{"h":282,"r":"26","t":52,"c":200},{"h":294,"r":"26","t":50,"c":100},{"h":306,"r":"26","t":53,"c":1100},{"h":318,"r":"26","t":44,"c":0},{"h":330,"r":"26","t":49,"c":300},{"h":342,"r":"26","t":44,"c":0},{"h":354,"r":"26","t":52,"c":400},{"h":366,"r":"26","t":47,"c":0},{"h":378,"r":"26","t":51,"c":200},{"h":384,"r":"26","t":48,"c":0},
{"h":0,"r":"27","t":59,"c":1000},{"h":6,"r":"27","t":60,"c":1000},{"h":18,"r":"27","t":64,"c":2000},{"h":30,"r":"27","t":58,"c":1300},{"h":42,"r":"27","t":56,"c":900},{"h":54,"r":"27","t":48,"c":0},{"h":66,"r":"27","t":51,"c":100},{"h":78,"r":"27","t":51,"c":100},{"h":90,"r":"27","t":53,"c":700},{"h":102,"r":"27","t":47,"c":0},{"h":114,"r":"27","t":46,"c":0},{"h":126,"r":"27","t":41,"c":0},{"h":138,"r":"27","t":46,"c":0},{"h":150,"r":"27","t":44,"c":0},{"h":162,"r":"27","t":53,"c":0},{"h":174,"r":"27","t":49,"c":100},{"h":186,"r":"27","t":56,"c":500},{"h":198,"r":"27","t":52,"c":100},{"h":210,"r":"27","t":57,"c":1900},{"h":222,"r":"27","t":54,"c":300},{"h":234,"r":"27","t":58,"c":1100},{"h":246,"r":"27","t":53,"c":200},{"h":258,"r":"27","t":58,"c":900},{"h":270,"r":"27","t":53,"c":300},{"h":282,"r":"27","t":57,"c":800},{"h":294,"r":"27","t":52,"c":200},{"h":306,"r":"27","t":55,"c":600},{"h":318,"r":"27","t":49,"c":100},{"h":330,"r":"27","t":52,"c":400},{"h":342,"r":"27","t":47,"c":100},{"h":354,"r":"27","t":44,"c":1500},{"h":366,"r":"27","t":37,"c":0},{"h":378,"r":"27","t":36,"c":0},{"h":384,"r":"27","t":32,"c":0},
{"h":0,"r":"28","t":58,"c":900},{"h":6,"r":"28","t":59,"c":950},{"h":18,"r":"28","t":63.5,"c":1950},{"h":30,"r":"28","t":57,"c":1200},{"h":42,"r":"28","t":56,"c":900},{"h":54,"r":"28","t":48,"c":0},{"h":66,"r":"28","t":51,"c":100},{"h":78,"r":"28","t":51,"c":100},{"h":90,"r":"28","t":52,"c":500},{"h":102,"r":"28","t":47,"c":0},{"h":114,"r":"28","t":46,"c":0},{"h":126,"r":"28","t":42,"c":0},{"h":138,"r":"28","t":46,"c":0},{"h":150,"r":"28","t":44,"c":0},{"h":162,"r":"28","t":52,"c":0},{"h":174,"r":"28","t":48,"c":100},{"h":186,"r":"28","t":56,"c":400},{"h":198,"r":"28","t":51,"c":100},{"h":210,"r":"28","t":60,"c":900},{"h":222,"r":"28","t":56,"c":300},{"h":234,"r":"28","t":62,"c":1000},{"h":246,"r":"28","t":57,"c":200},{"h":258,"r":"28","t":63,"c":900},{"h":270,"r":"28","t":57,"c":300},{"h":282,"r":"28","t":62,"c":800},{"h":294,"r":"28","t":56,"c":200},{"h":306,"r":"28","t":60,"c":700},{"h":318,"r":"28","t":55,"c":200},{"h":330,"r":"28","t":58,"c":500},{"h":342,"r":"28","t":53,"c":200},{"h":354,"r":"28","t":57,"c":700},{"h":366,"r":"28","t":50,"c":200},{"h":378,"r":"28","t":55,"c":1622},{"h":384,"r":"28","t":52,"c":600},
{"h":0,"r":"29","t":58,"c":700},{"h":6,"r":"29","t":59,"c":800},{"h":18,"r":"29","t":64,"c":1900},{"h":30,"r":"29","t":57,"c":1200},{"h":42,"r":"29","t":56,"c":900},{"h":54,"r":"29","t":48,"c":0},{"h":66,"r":"29","t":51,"c":100},{"h":78,"r":"29","t":51,"c":100},{"h":90,"r":"29","t":59.5,"c":1500},{"h":102,"r":"29","t":48,"c":900},{"h":114,"r":"29","t":46,"c":0},{"h":126,"r":"29","t":41,"c":0},{"h":138,"r":"29","t":46,"c":0},{"h":150,"r":"29","t":44,"c":0},{"h":162,"r":"29","t":52,"c":0},{"h":174,"r":"29","t":48,"c":100},{"h":186,"r":"29","t":56,"c":400},{"h":198,"r":"29","t":51,"c":100},{"h":210,"r":"29","t":56,"c":1000},{"h":222,"r":"29","t":53,"c":300},{"h":234,"r":"29","t":57,"c":2000},{"h":246,"r":"29","t":53,"c":200},{"h":258,"r":"29","t":58,"c":1700},{"h":270,"r":"29","t":53,"c":300},{"h":282,"r":"29","t":58,"c":900},{"h":294,"r":"29","t":53,"c":200},{"h":306,"r":"29","t":57,"c":700},{"h":318,"r":"29","t":52,"c":200},{"h":330,"r":"29","t":55,"c":500},{"h":342,"r":"29","t":51,"c":100},{"h":354,"r":"29","t":55,"c":700},{"h":366,"r":"29","t":50,"c":100},{"h":378,"r":"29","t":54,"c":300},{"h":384,"r":"29","t":52,"c":100},
{"h":0,"r":"30","t":58.5,"c":950},{"h":6,"r":"30","t":60,"c":1000},{"h":18,"r":"30","t":64.5,"c":2100},{"h":30,"r":"30","t":58,"c":1400},{"h":42,"r":"30","t":57,"c":1000},{"h":54,"r":"30","t":49,"c":0},{"h":66,"r":"30","t":52,"c":100},{"h":78,"r":"30","t":51,"c":200},{"h":90,"r":"30","t":54,"c":1920},{"h":102,"r":"30","t":47,"c":200},{"h":114,"r":"30","t":46,"c":0},{"h":126,"r":"30","t":41,"c":0},{"h":138,"r":"30","t":46,"c":0},{"h":150,"r":"30","t":44,"c":0},{"h":162,"r":"30","t":53,"c":0},{"h":174,"r":"30","t":49,"c":100},{"h":186,"r":"30","t":57,"c":600},{"h":198,"r":"30","t":52,"c":200},{"h":210,"r":"30","t":57,"c":1200},{"h":222,"r":"30","t":54,"c":400},{"h":234,"r":"30","t":58,"c":1300},{"h":246,"r":"30","t":54,"c":300},{"h":258,"r":"30","t":59,"c":1200},{"h":270,"r":"30","t":54,"c":400},{"h":282,"r":"30","t":58,"c":1000},{"h":294,"r":"30","t":53,"c":300},{"h":306,"r":"30","t":57,"c":900},{"h":318,"r":"30","t":52,"c":300},{"h":330,"r":"30","t":62,"c":1300},{"h":342,"r":"30","t":56,"c":400},{"h":354,"r":"30","t":56,"c":900},{"h":366,"r":"30","t":51,"c":200},{"h":378,"r":"30","t":55,"c":600},{"h":384,"r":"30","t":52,"c":200}
]},
"layer":[
{"layer":[
{"data":{"name":"p"},"mark":{"type":"line","strokeWidth":1,"point":{"shape":"cross","size":8,"filled":true}},
"encoding":{
"x":{"field":"h","type":"quantitative","scale":{"domain":[0,384],"nice":false,"zero":false},
"axis":{"values":[0,24,48,72,96,120,144,168,192,216,240,264,288,312,336,360,384],"tickCount":60,
"labelExpr":"['23/08','24/08','25/08','26/08','27/08','28/08','29/08','30/08','31/08','01/09','02/09','03/09','04/09','05/09','06/09','07/09','08/09'][round(datum.value/24)]",
"labelAngle":270,"labelOffset":7,"labelPadding":3,"labelOverlap":false,"labelFlush":false,"labelBound":false,"labelFont":"DejaVu Sans Mono","labelFontSize":10,"labelColor":"#000000",
"grid":true,"gridColor":"#c0c0c0","gridOpacity":1,"gridWidth":1,"ticks":false,"tickSize":0,"domain":true,"domainColor":"#000000","domainWidth":1,"title":null}},
"y":{"field":"t","type":"quantitative","scale":{"domain":[-16.6667,83.3333],"nice":false,"zero":false},
"axis":{"values":[-15,-10,-5,0,5,10,15,20,25,30,35,40,45,50,55,60,65,70,75,80],"tickCount":60,"format":"d","grid":false,"ticks":false,"tickSize":0,"domain":false,"labelAlign":"left","labelBaseline":"middle","labelPadding":30,"labelOffset":3,"labelOverlap":false,"labelFlush":false,"labelFont":"DejaVu Sans Mono","labelFontSize":10,"labelColor":"#000000",
"title":"(°C)","titleAngle":0,"titleX":-30,"titleY":607,"titleAlign":"left","titleBaseline":"middle","titleFont":"DejaVu Sans Mono","titleFontSize":10,"titleFontWeight":"normal","titleColor":"#000000"}},
"color":{"field":"r","type":"nominal","legend":null,"scale":{"domain":["01","02","03","04","05","06","07","08","09","10","11","12","13","14","15","16","17","18","19","20","21","22","23","24","25","26","27","28","29","30"],"range":["#e0803a","#8cc870","#f0c000","#8c50a8","#b05010","#5a8010","#1890f0","#e8d8b0","#4088b0","#e8a860","#6a5020","#f06020","#d0c080","#10d860","#284058","#687078","#e080f0","#8030f0","#7a5828","#300870","#f0d800","#2860a0","#8a5828","#a090f0","#a8f040","#d080d8","#200890","#e0d0b0","#800808","#0838b0"]}}}},
{"data":{"name":"m"},"transform":[{"filter":{"field":"r","equal":"G"}}],"mark":{"type":"line","color":"#000000","strokeWidth":3},"encoding":{"x":{"field":"h","type":"quantitative"},"y":{"field":"t","type":"quantitative"}}},
{"data":{"name":"m"},"transform":[{"filter":{"field":"r","equal":"C"}}],"mark":{"type":"line","color":"#0000ff","strokeWidth":3},"encoding":{"x":{"field":"h","type":"quantitative"},"y":{"field":"t","type":"quantitative"}}},
{"data":{"name":"m"},"transform":[{"filter":{"field":"r","equal":"M"}}],"mark":{"type":"line","color":"#ff0000","strokeWidth":4},"encoding":{"x":{"field":"h","type":"quantitative"},"y":{"field":"t","type":"quantitative"}}},
{"data":{"values":[{}]},"mark":{"type":"text","align":"left","baseline":"middle","fontSize":10},"encoding":{"x":{"datum":6},"y":{"datum":67.17},"text":{"value":"ThetaE 850hPa"}}},
{"data":{"values":[{}]},"mark":{"type":"text","align":"left","baseline":"middle","fontSize":10},"encoding":{"x":{"datum":6},"y":{"datum":18.83},"text":{"value":"CAPE"}}},
{"data":{"values":[{}]},"mark":{"type":"rule","color":"#ff0000","strokeWidth":4},"encoding":{"x":{"datum":-9},"x2":{"datum":9},"y":{"datum":-24.5}}},
{"data":{"values":[{}]},"mark":{"type":"text","align":"left","baseline":"middle","fontSize":10},"encoding":{"x":{"datum":15},"y":{"datum":-24.5},"text":{"value":"Moyenne des scénarios"}}},
{"data":{"values":[{}]},"mark":{"type":"rule","color":"#0000ff","strokeWidth":4},"encoding":{"x":{"datum":105},"x2":{"datum":123},"y":{"datum":-22.83}}},
{"data":{"values":[{}]},"mark":{"type":"text","align":"left","baseline":"middle","fontSize":10},"encoding":{"x":{"datum":129},"y":{"datum":-22.83},"text":{"value":"Run de contrôle"}}},
{"data":{"values":[{}]},"mark":{"type":"rule","color":"#000000","strokeWidth":4},"encoding":{"x":{"datum":105},"x2":{"datum":123},"y":{"datum":-24.5}}},
{"data":{"values":[{}]},"mark":{"type":"text","align":"left","baseline":"middle","fontSize":10},"encoding":{"x":{"datum":129},"y":{"datum":-24.5},"text":{"value":"Run GFS"}}},
{"data":{"values":[{}]},"mark":{"type":"text","align":"left","baseline":"middle","fontSize":10},"encoding":{"x":{"datum":174},"y":{"datum":-25.33},"text":{"value":"30 Perts."}}},
{"data":{"values":[{}]},"mark":{"type":"rect","fill":"#ffffff","stroke":"#000000","strokeWidth":1},"encoding":{"x":{"datum":-17.4},"x2":{"datum":234},"y":{"datum":-27.83},"y2":{"datum":-33.17}}},
{"data":{"values":[{}]},"mark":{"type":"text","align":"left","baseline":"middle","fontSize":12,"fontWeight":"bold"},"encoding":{"x":{"datum":-12},"y":{"datum":-29.5},"text":{"value":"Diagramme des ensembles GEFS sur 384h : 40.4N 0W"}}},
{"data":{"values":[{}]},"mark":{"type":"text","align":"left","baseline":"middle","fontSize":10},"encoding":{"x":{"datum":-12},"y":{"datum":-32},"text":{"value":"ThetaE 850hPa (°C) , CAPE (J/kg)"}}},
{"data":{"values":[{}]},"mark":{"type":"text","align":"left","baseline":"middle","fontSize":10},"encoding":{"x":{"datum":240},"y":{"datum":-28.67},"text":{"value":"Ensemble GEFS du 23/08/2026 - 00Z"}}},
{"data":{"values":[{}]},"mark":{"type":"text","align":"left","baseline":"middle","fontSize":11.5,"fontWeight":"bold"},"encoding":{"x":{"datum":240},"y":{"datum":-32},"text":{"value":"Copyright 2026 Meteociel.fr"}}}
]},
{"layer":[
{"data":{"name":"p"},"mark":{"type":"line","strokeWidth":1,"point":{"shape":"cross","size":8,"filled":true}},
"encoding":{
"x":{"field":"h","type":"quantitative","scale":{"domain":[0,384],"nice":false,"zero":false},"axis":null},
"y":{"field":"c","type":"quantitative","scale":{"domain":[-133.333,7866.667],"nice":false,"zero":false},
"axis":{"orient":"right","values":[0,400,800,1200,1600,2000,2400,2800,3200,3600,4000,4400,4800,5200,5600,6000,6400,6800,7200,7600],"tickCount":60,"format":"d","grid":true,"gridColor":"#c0c0c0","gridOpacity":1,"gridWidth":1,"ticks":false,"tickSize":0,"domain":false,"labelAlign":"left","labelBaseline":"middle","labelPadding":20,"labelOffset":3,"labelOverlap":false,"labelFlush":false,"labelFont":"DejaVu Sans Mono","labelFontSize":10,"labelColor":"#000000",
"title":"(J/kg)","titleAngle":0,"titleX":5,"titleY":607,"titleAlign":"left","titleBaseline":"middle","titleFont":"DejaVu Sans Mono","titleFontSize":10,"titleFontWeight":"normal","titleColor":"#000000"}},
"color":{"field":"r","type":"nominal","legend":null}}},
{"data":{"name":"m"},"transform":[{"filter":{"field":"r","equal":"G"}}],"mark":{"type":"line","color":"#000000","strokeWidth":3},"encoding":{"x":{"field":"h","type":"quantitative"},"y":{"field":"c","type":"quantitative"}}},
{"data":{"name":"m"},"transform":[{"filter":{"field":"r","equal":"C"}}],"mark":{"type":"line","color":"#0000ff","strokeWidth":3},"encoding":{"x":{"field":"h","type":"quantitative"},"y":{"field":"c","type":"quantitative"}}},
{"data":{"name":"m"},"transform":[{"filter":{"field":"r","equal":"M"}}],"mark":{"type":"line","color":"#ff0000","strokeWidth":4},"encoding":{"x":{"field":"h","type":"quantitative"},"y":{"field":"c","type":"quantitative"}}}
]},
{"data":{"name":"p"},"transform":[{"filter":{"field":"h","equal":0}}],
"encoding":{"x":{"field":"r","type":"nominal","scale":{"type":"band","range":[350,679],"paddingInner":0.0909,"paddingOuter":0},"axis":null}},
"layer":[
{"mark":{"type":"rect"},"encoding":{"y":{"datum":-25,"type":"quantitative","scale":{"domain":[-16.6667,83.3333],"nice":false,"zero":false},"axis":null},"y2":{"datum":-26},"color":{"field":"r","type":"nominal","legend":null}}},
{"mark":{"type":"text","fontSize":8,"fontWeight":"bold","baseline":"middle","align":"center"},"encoding":{"y":{"datum":-23.83,"type":"quantitative","axis":null},"text":{"field":"r"}}}
]}
],
"resolve":{"scale":{"x":"independent","y":"independent"}}
}
